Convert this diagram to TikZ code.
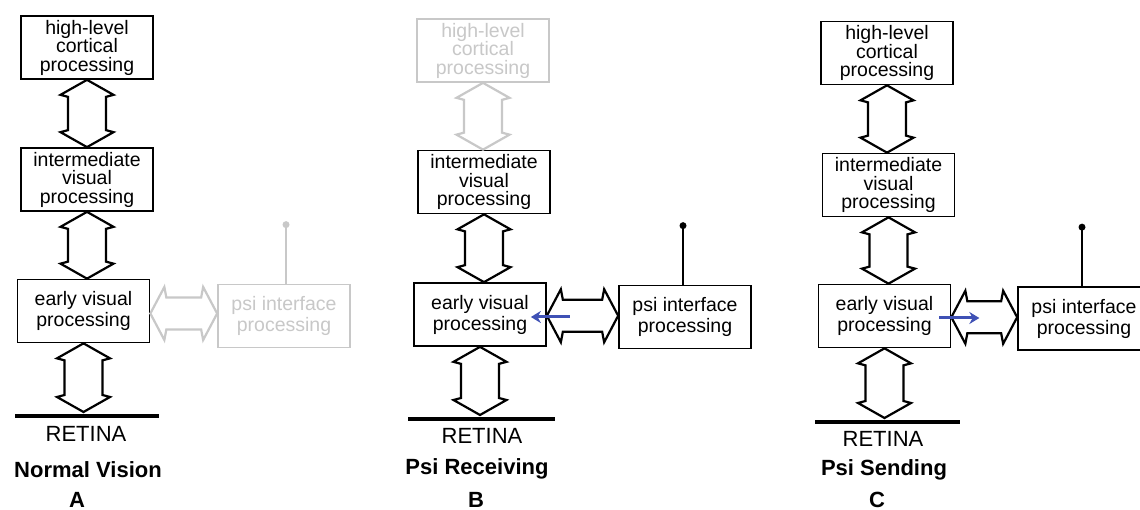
\documentclass[tikz,border=0pt]{standalone}
\usepackage{fontspec}
\setmainfont{Liberation Sans}
\usetikzlibrary{calc,arrows.meta}
\definecolor{paleg}{HTML}{C8C8C8}
\definecolor{blueA}{HTML}{3F51B5}

\newcommand\varrow[3]{%
 \draw[arrowline,#3] let \p1=(#1), \p2=(#2) in
  (\x1,\y1) -- (\x1+26.5pt,\y1-15pt) -- (\x1+19pt,\y1-17pt) -- (\x1+19pt,\y2+17pt) -- (\x1+26.5pt,\y2+15pt) -- (\x1,\y2)
  -- (\x1-26.5pt,\y2+15pt) -- (\x1-19pt,\y2+17pt) -- (\x1-19pt,\y1-17pt) -- (\x1-26.5pt,\y1-15pt) -- cycle;}
\newcommand\harrow[3]{%
 \draw[arrowline,#3] let \p1=(#1), \p2=(#2), \p3=($(#1)!0.5!(#2)$) in
  (\x1,\y3) -- (\x1+14pt,\y3+26.5pt) -- (\x1+16pt,\y3+16pt) -- (\x2-16pt,\y3+16pt) -- (\x2-14pt,\y3+26.5pt) -- (\x2,\y3)
  -- (\x2-14pt,\y3-26.5pt) -- (\x2-16pt,\y3-16pt) -- (\x1+16pt,\y3-16pt) -- (\x1+14pt,\y3-26.5pt) -- cycle;}

\begin{document}
\begin{tikzpicture}[x=1pt,y=-1pt,
  box/.style={draw, line width=1.7pt, minimum width=132pt, minimum height=63pt, inner sep=0pt, align=center, font=\fontsize{19.5}{18.5}\selectfont},
  twoline/.style={font=\fontsize{19.5}{21}\selectfont},
  pale/.style={draw=paleg, text=paleg},
  arrowline/.style={draw, line width=2.2pt, fill=white, line join=miter},
  ret/.style={line width=3.5pt},
  lab/.style={font=\fontsize{22}{24}\selectfont, inner sep=0pt},
  captxt/.style={font=\bfseries\fontsize{22}{24}\selectfont, inner sep=0pt},
  ant/.style={line width=1.5pt},
  bluearrow/.style={draw=blueA, line width=3pt, -{Stealth[length=10pt,width=12pt]}}
]
\clip (0,0) rectangle (1140,510);
\fill[white] (0,0) rectangle (1140,510);

% ---------- Panel A ----------
\node[box] (hiA) at (87,47.5) {high-level\\cortical\\processing};
\node[box] (midA) at (87,179.5) {intermediate\\visual\\processing};
\node[box,twoline] (earlyA) at (83.5,311) {early visual\\processing};
\node[box,twoline,pale] (psiA) at (284,316) {psi interface\\processing};
\coordinate (rAl) at (15,416); \coordinate (rAr) at (159,416);
\draw[ret] (rAl) -- (rAr);
\node[lab] (retA) at (86,434) {RETINA};
\node[captxt] (capA) at (88,470) {Normal Vision};
\node[captxt] (letA) at (77,500) {A};
\varrow{hiA.south}{midA.north}{}
\varrow{midA.south}{earlyA.north}{}
\varrow{earlyA.south}{$(rAl)!0.5!(rAr)+(0,-4)$}{}
\harrow{earlyA.east}{psiA.west}{draw=paleg}
\coordinate (antA) at ($(psiA.north)+(2,-59)$);
\draw[ant,paleg] ($(psiA.north)+(2,0)$) -- (antA);
\fill[paleg] (antA) circle (3.5pt);

% ---------- Panel B ----------
\node[box,pale] (hiB) at (483,50.5) {high-level\\cortical\\processing};
\node[box] (midB) at (484,182) {intermediate\\visual\\processing};
\node[box,twoline] (earlyB) at (480,314.5) {early visual\\processing};
\node[box,twoline] (psiB) at (685,317) {psi interface\\processing};
\coordinate (rBl) at (408,419); \coordinate (rBr) at (555,419);
\draw[ret] (rBl) -- (rBr);
\node[lab] (retB) at (482,436) {RETINA};
\node[captxt] (capB) at (477,469) {Psi Receiving};
\node[captxt] (letB) at (476,500) {B};
\varrow{hiB.south}{midB.north}{draw=paleg}
\varrow{midB.south}{earlyB.north}{}
\varrow{earlyB.south}{$(rBl)!0.5!(rBr)+(0,-4)$}{}
\harrow{earlyB.east}{psiB.west}{}
\coordinate (antB) at ($(psiB.north)+(-2,-59)$);
\draw[ant] ($(psiB.north)+(-2,0)$) -- (antB);
\fill (antB) circle (3.5pt);
\draw[bluearrow] ($(earlyB.east)+(23,2.5)$) -- ($(earlyB.east)+(-16,2.5)$);

% ---------- Panel C ----------
\node[box] (hiC) at (887,53) {high-level\\cortical\\processing};
\node[box] (midC) at (888.5,185) {intermediate\\visual\\processing};
\node[box,twoline] (earlyC) at (884.5,316) {early visual\\processing};
\node[box,twoline] (psiC) at (1084,318.5) {psi interface\\processing};
\coordinate (rCl) at (815,422); \coordinate (rCr) at (960,422);
\draw[ret] (rCl) -- (rCr);
\node[lab] (retC) at (883,439) {RETINA};
\node[captxt] (capC) at (884,470) {Psi Sending};
\node[captxt] (letC) at (877,500) {C};
\varrow{hiC.south}{midC.north}{}
\varrow{midC.south}{earlyC.north}{}
\varrow{earlyC.south}{$(rCl)!0.5!(rCr)+(0,-4)$}{}
\harrow{earlyC.east}{psiC.west}{}
\coordinate (antC) at ($(psiC.north)+(-2,-59)$);
\draw[ant] ($(psiC.north)+(-2,0)$) -- (antC);
\fill (antC) circle (3.5pt);
\draw[bluearrow] ($(earlyC.east)+(-12,2)$) -- ($(earlyC.east)+(28,2)$);
\end{tikzpicture}
\end{document}
